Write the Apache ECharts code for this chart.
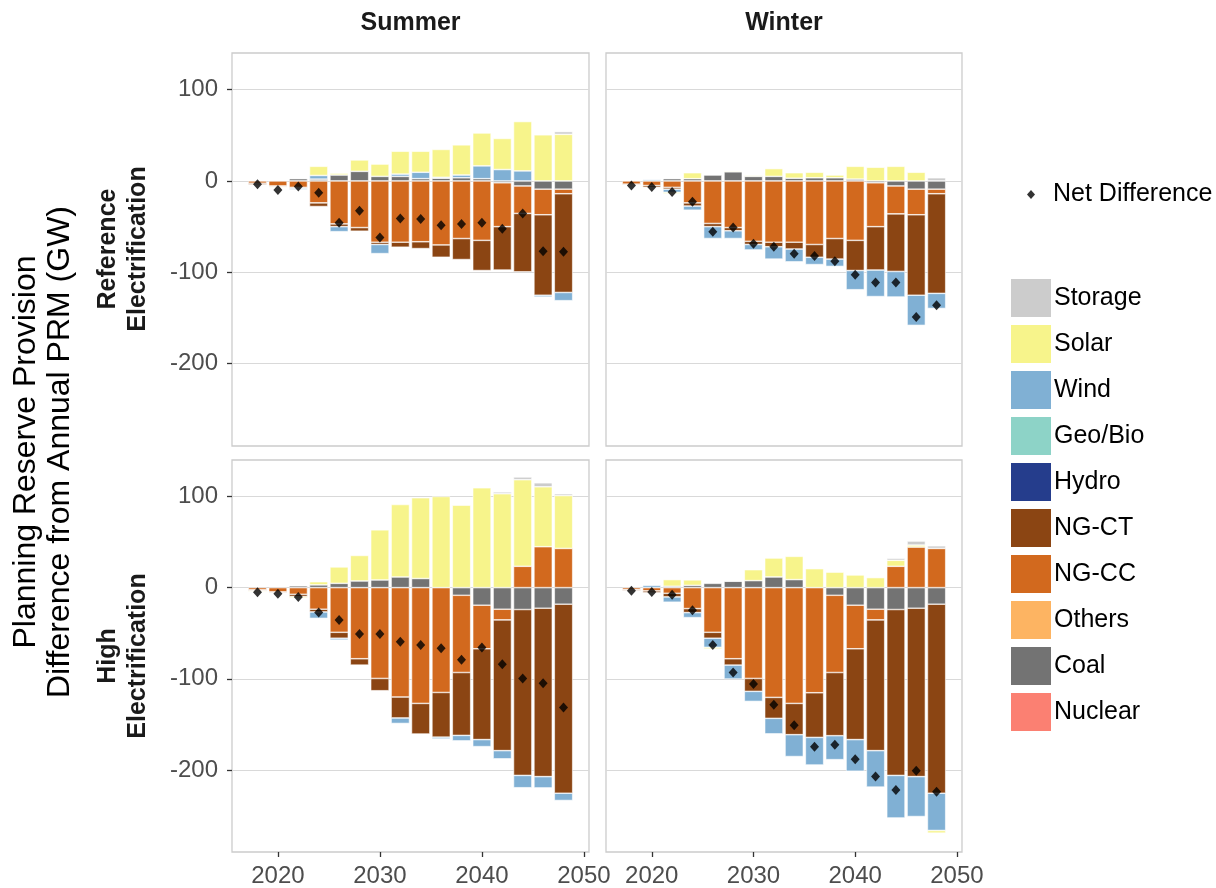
<!DOCTYPE html>
<html>
<head>
<meta charset="utf-8">
<script src="https://cdn.jsdelivr.net/npm/echarts@6/dist/echarts.min.js"></script>
<style>
html, body { margin: 0; padding: 0; background: #fff; }
#chart { width: 1216px; height: 888px; }
</style>
</head>
<body>
<div id="chart"></div>
<script>
// years of the bars
const years = [2018, 2020, 2022, 2024, 2026, 2028, 2030, 2032, 2034, 2036, 2038, 2040, 2042, 2044, 2046, 2048];
const xTickYears = [2020, 2030, 2040, 2050];
const yTicks = [-200, -100, 0, 100];

// Reference Electrification - Summer
const sumRefStorage = [0, 0, 0, 0, 0, 0, 0, 0, 0, 0, 0, 0, 0, 0, 0, 3];
const sumRefSolar   = [0, -1, 0, 10, 2, 12.5, 13.5, 25, 23, 30.5, 33, 36, 34, 54, 50.5, 51];
const sumRefWind    = [0, 0, -1.5, 4, -5.5, 0, -10, 2.5, 7, 1, 3, 14, 12.5, 11, -2, -9];
const sumRefNGCT    = [-1.5, -1, -1, -4, -3, -4, -2.5, -5.5, -7.5, -13.5, -23, -33, -47.5, -64, -88, -108];
const sumRefNGCC    = [-2.5, -5.5, -7, -24, -47, -51, -67, -67, -66.5, -70, -63, -65, -48, -30, -28, -5];
const sumRefCoal    = [0, 0, 2.5, 2, 6.5, 10.5, 5, 5, 2.5, 3, 3.5, 2.5, -2, -5.5, -9, -9];
const sumRefNet     = [-3.7, -10, -6.2, -12.8, -45.7, -32.5, -62, -41, -41.7, -48.6, -47, -45.7, -52.3, -35.5, -76.8, -77.5];

// Reference Electrification - Winter
const winRefStorage = [0, 0, 0, 0, 0, 0, 0, 0, 0, 0, 0, 0, 0, 0, 0, 3.5];
const winRefSolar   = [0, 0, -1.5, 6.5, 0, 1, 1, 8.5, 6, 6, 3, 14, 15, 16, 9.5, 0];
const winRefWind    = [0, 1.5, -3.5, -4.5, -13, -8.5, -6, -13.5, -14, -8, -8, -21, -29, -28, -33, -16.5];
const winRefNGCT    = [-1, -2, -2, -3.5, -3.5, -3.5, -3.5, -5, -7.5, -14, -22.5, -33, -47.5, -63, -88, -109];
const winRefNGCC    = [-3.5, -5, -7, -24, -46.5, -51, -66, -67, -67, -69.5, -63, -65, -48, -30.5, -28, -5];
const winRefCoal    = [0, 0, 2.5, 2.5, 6.5, 10, 5, 5, 3, 3.5, 3.5, 2, -2, -5.5, -9, -9];
const winRefNet     = [-5, -6.6, -12, -22.7, -55.6, -51, -68.7, -72, -79.7, -82, -87.8, -102.7, -111, -111, -148.8, -136];

// High Electrification - Summer
const sumHighStorage = [0, 0, 0, 0, 0, 0, 0, 0, 0, 0, 0, 0, 2, 3, 4.4, 2];
const sumHighSolar   = [-1, 0, -1.5, 3.5, 18, 28, 55, 79.5, 88.6, 100, 90.5, 109.5, 103, 95, 65.7, 58];
const sumHighWind    = [0, 0, 0, -7, -2, 0, 0, -6, 0, -2, -6, -7.7, -9, -13.5, -12.4, -8];
const sumHighNGCT    = [-1, -1, -2.5, -3, -6.5, -7, -13.5, -23, -33.6, -49, -69, -99.6, -143.4, -182, -184.7, -207.3];
const sumHighNGCC    = [-2.5, -4.7, -7.3, -23.7, -49, -78, -99.6, -120, -127, -115, -84.7, -47.8, -11.7, 23.4, 44.9, 43];
const sumHighCoal    = [0, 0, 2, 3, 4.7, 7.3, 8.4, 11.7, 10, 0, -8.4, -19.3, -23.7, -24, -22.6, -18.2];
const sumHighNet     = [-5, -6.6, -10.2, -27.4, -35.4, -51, -51, -59.5, -62.8, -66.4, -79.2, -65.7, -84, -99.6, -105, -131.4];

// High Electrification - Winter
const winHighStorage = [0, 0, 0, 0, 0, 0, 0, 0, 0, 0, 0, 0, 0, 2.2, 4.4, 2.9];
const winHighSolar   = [0, 0, 7.3, 6, -1.8, 0.7, 12, 20.8, 25.5, 20.8, 17, 13.9, 11, 6.6, 2.2, -2.9];
const winHighWind    = [0, 2.5, -5.8, -5.5, -10, -15.3, -11, -17, -24, -30.3, -26.3, -34.7, -40, -46.7, -43.8, -40.9];
const winHighNGCT    = [-1, -2, -4, -4.4, -6.5, -7, -14.2, -23, -34.3, -49, -69.3, -99.6, -143.4, -182, -184.7, -207.3];
const winHighNGCC    = [-2.2, -3.6, -6.2, -23, -49, -78, -99.6, -120.4, -127, -115.3, -84.7, -47.8, -11.7, 23.4, 44.5, 43];
const winHighCoal    = [0, 0, 1.5, 2.5, 4.7, 7, 7.7, 11.7, 8.8, 0, -8.4, -19.3, -23.7, -24, -22.6, -18.2];
const winHighNet     = [-3.3, -4.7, -7.7, -24.8, -62.8, -93, -105.8, -128.5, -151, -174.5, -172.3, -188.3, -207.3, -222, -201, -224];

// legend order (top to bottom); stacking goes the other way from zero outward
const techLegend = ['Storage', 'Solar', 'Wind', 'Geo/Bio', 'Hydro', 'NG-CT', 'NG-CC', 'Others', 'Coal', 'Nuclear'];
const techColors = {
  'Storage': '#CCCCCC',
  'Solar': '#F7F48B',
  'Wind': '#80B0D4',
  'Geo/Bio': '#8DD3C7',
  'Hydro': '#253D8C',
  'NG-CT': '#8B4513',
  'NG-CC': '#D2691E',
  'Others': '#FDB462',
  'Coal': '#737373',
  'Nuclear': '#FB8072'
};

const FONT = '"Liberation Sans", Arial, Helvetica, sans-serif';
const X_MIN_CAT = 2016, X_MAX_CAT = 2050;
const cats = [];
for (let y = X_MIN_CAT; y <= X_MAX_CAT; y++) cats.push(String(y));

const panels = [
  { left: 232, top: 53, width: 357, height: 393, isLeft: true, isBottom: false,
    data: { 'Storage': sumRefStorage, 'Solar': sumRefSolar, 'Wind': sumRefWind, 'NG-CT': sumRefNGCT, 'NG-CC': sumRefNGCC, 'Coal': sumRefCoal }, net: sumRefNet },
  { left: 606, top: 53, width: 356, height: 393, isLeft: false, isBottom: false,
    data: { 'Storage': winRefStorage, 'Solar': winRefSolar, 'Wind': winRefWind, 'NG-CT': winRefNGCT, 'NG-CC': winRefNGCC, 'Coal': winRefCoal }, net: winRefNet },
  { left: 232, top: 460, width: 357, height: 392, isLeft: true, isBottom: true,
    data: { 'Storage': sumHighStorage, 'Solar': sumHighSolar, 'Wind': sumHighWind, 'NG-CT': sumHighNGCT, 'NG-CC': sumHighNGCC, 'Coal': sumHighCoal }, net: sumHighNet },
  { left: 606, top: 460, width: 356, height: 392, isLeft: false, isBottom: true,
    data: { 'Storage': winHighStorage, 'Solar': winHighSolar, 'Wind': winHighWind, 'NG-CT': winHighNGCT, 'NG-CC': winHighNGCC, 'Coal': winHighCoal }, net: winHighNet }
];

// spread the 16 values over the yearly category axis
function toCats(arr) {
  return cats.map(c => {
    const i = years.indexOf(+c);
    if (i < 0 || !arr || arr[i] === 0) return '-';
    return arr[i];
  });
}

const isDecade = (idx, val) => xTickYears.indexOf(+val) >= 0;

const grids = [], xAxes = [], yAxes = [], series = [];
panels.forEach((p, k) => {
  grids.push({
    left: p.left, top: p.top, width: p.width, height: p.height,
    show: true, borderColor: '#CCCCCC', borderWidth: 1.3, backgroundColor: '#fff',
    containLabel: false
  });
  xAxes.push({
    type: 'category', gridIndex: k, data: cats, boundaryGap: true, position: 'bottom',
    axisLine: { show: false, onZero: false },
    axisTick: { show: p.isBottom, interval: isDecade, alignWithLabel: true, length: 5,
      lineStyle: { color: '#333', width: 1.3 } },
    axisLabel: { show: p.isBottom, interval: isDecade, fontSize: 24, color: '#4D4D4D',
      fontFamily: FONT, margin: 12 },
    splitLine: { show: false }
  });
  yAxes.push({
    type: 'value', gridIndex: k, min: -290, max: 140,
    axisLine: { show: false },
    axisTick: { show: p.isLeft, customValues: yTicks, length: 5,
      lineStyle: { color: '#333', width: 1.3 } },
    axisLabel: { show: p.isLeft, customValues: yTicks, fontSize: 24, color: '#4D4D4D',
      fontFamily: FONT, margin: 14 },
    splitLine: { show: true, lineStyle: { color: '#D9D9D9', width: 1.2 } }
  });
  const barW = Math.round(p.width / cats.length * 1.8 * 10) / 10;
  techLegend.slice().reverse().forEach(t => {
    series.push({
      type: 'bar', name: t, xAxisIndex: k, yAxisIndex: k, stack: 'p' + k,
      barWidth: barW, data: toCats(p.data[t]),
      itemStyle: { color: techColors[t], borderColor: '#fff', borderWidth: 0.6 },
      emphasis: { disabled: true }
    });
  });
  series.push({
    type: 'scatter', name: 'Net Difference', xAxisIndex: k, yAxisIndex: k,
    data: cats.map(c => { const i = years.indexOf(+c); return i < 0 ? '-' : p.net[i]; }),
    symbol: 'diamond', symbolSize: [9, 10], z: 5,
    itemStyle: { color: '#000' }
  });
});

function vText(x, y, text, size, weight) {
  return {
    type: 'text', x: x, y: y, rotation: Math.PI / 2,
    style: { text: text, font: weight + ' ' + size + 'px ' + FONT, fill: weight === 'bold' ? '#1A1A1A' : '#000',
      align: 'center', verticalAlign: 'middle' }
  };
}
function hText(x, y, text) {
  return {
    type: 'text', x: x, y: y,
    style: { text: text, font: 'bold 25px ' + FONT, fill: '#1A1A1A', align: 'center', verticalAlign: 'middle' }
  };
}

const chart = echarts.init(document.getElementById('chart'), null, { renderer: 'canvas' });
chart.setOption({
  backgroundColor: '#fff',
  animation: false,
  grid: grids,
  xAxis: xAxes,
  yAxis: yAxes,
  legend: [
    {
      data: [{ name: 'Net Difference', icon: 'diamond' }],
      left: 1027, top: 182, padding: 0, itemWidth: 8, itemHeight: 9,
      textStyle: { fontSize: 25, color: '#000', fontFamily: FONT, padding: [0, 0, 0, 13] },
      itemStyle: { color: '#000' }
    },
    {
      data: techLegend, orient: 'vertical', left: 1009, top: 277, padding: 0,
      icon: 'rect', itemWidth: 42, itemHeight: 40, itemGap: 4,
      textStyle: { fontSize: 25, color: '#000', fontFamily: FONT, padding: [0, 0, 0, -3] }
    }
  ],
  graphic: [
    hText(410.5, 23, 'Summer'),
    hText(784, 23, 'Winter'),
    vText(26, 452, 'Planning Reserve Provision', 32, 'normal'),
    vText(60, 452, 'Difference from Annual PRM (GW)', 32, 'normal'),
    vText(108, 249, 'Reference', 25, 'bold'),
    vText(138, 249, 'Electrification', 25, 'bold'),
    vText(108, 656, 'High', 25, 'bold'),
    vText(138, 656, 'Electrification', 25, 'bold')
  ],
  series: series
});
</script>
</body>
</html>
